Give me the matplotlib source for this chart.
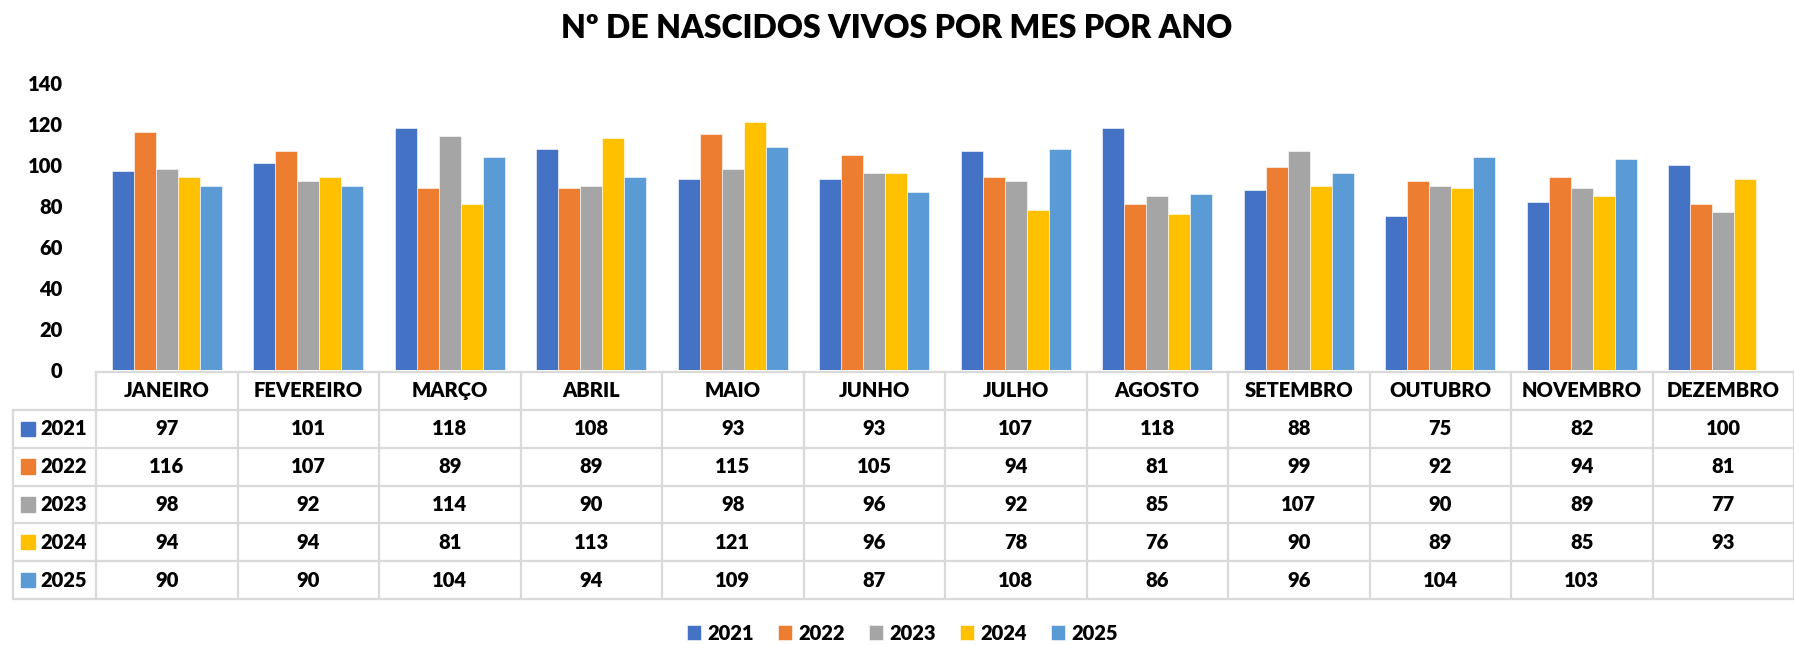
import matplotlib

matplotlib.use("Agg")
import matplotlib.pyplot as plt
from matplotlib.patches import Rectangle
import numpy as np

months = ["JANEIRO", "FEVEREIRO", "MARÇO", "ABRIL", "MAIO", "JUNHO",
          "JULHO", "AGOSTO", "SETEMBRO", "OUTUBRO", "NOVEMBRO", "DEZEMBRO"]
years = ["2021", "2022", "2023", "2024", "2025"]
v2021 = [97, 101, 118, 108, 93, 93, 107, 118, 88, 75, 82, 100]
v2022 = [116, 107, 89, 89, 115, 105, 94, 81, 99, 92, 94, 81]
v2023 = [98, 92, 114, 90, 98, 96, 92, 85, 107, 90, 89, 77]
v2024 = [94, 94, 81, 113, 121, 96, 78, 76, 90, 89, 85, 93]
v2025 = [90, 90, 104, 94, 109, 87, 108, 86, 96, 104, 103, None]
series = [v2021, v2022, v2023, v2024, v2025]
colors = ["#4472C4", "#ED7D31", "#A5A5A5", "#FFC000", "#5B9BD5"]

W, H = 1794, 645
FONT = "Lato"
WEIGHT = "heavy"
FS = 14.5
GRID = "#D9D9D9"

fig = plt.figure(figsize=(W / 100, H / 100), dpi=100)
fig.patch.set_facecolor("white")

# pixel layout
col_left, col_right = 96, 1794
y_zero, y_top = 370, 83
label_left = 13
row_top, row_bottom = 372, 599

ax = fig.add_axes([col_left / W, 1 - y_zero / H, (col_right - col_left) / W, (y_zero - y_top) / H])
x = np.arange(len(months))
n = len(series)
width = 0.775 / n
for i, (vals, color, year) in enumerate(zip(series, colors, years)):
    heights = [np.nan if v is None else v for v in vals]
    ax.bar(x + (i - (n - 1) / 2) * width, heights, width, color=color, label=year,
           edgecolor="white", linewidth=0.4)
ax.set_xlim(-0.5, len(months) - 0.5)
ax.set_ylim(0, 140)
ax.set_yticks(range(0, 141, 20))
ax.set_xticks([])
ax.tick_params(axis="y", length=0, pad=24)
for lab in ax.get_yticklabels():
    lab.set_fontfamily(FONT)
    lab.set_fontweight(WEIGHT)
    lab.set_fontsize(FS)
for s in ax.spines.values():
    s.set_visible(False)

# data table
cat_px = (col_right - col_left) / len(months)
extra = (col_left - label_left) / cat_px
tb = fig.add_axes([label_left / W, 1 - row_bottom / H, (col_right - label_left) / W, (row_bottom - row_top) / H])
tb.set_xlim(-0.5 - extra, len(months) - 0.5)
tb.set_ylim(n + 1, 0)
tb.axis("off")
lw = 1.6
# horizontal lines
tb.plot([-0.5, len(months) - 0.5], [0, 0], color=GRID, lw=lw, clip_on=False)
for r in range(1, n + 2):
    tb.plot([-0.5 - extra, len(months) - 0.5], [r, r], color=GRID, lw=lw, clip_on=False)
# vertical lines
for c in range(len(months) + 1):
    tb.plot([c - 0.5, c - 0.5], [0, n + 1], color=GRID, lw=lw, clip_on=False)
tb.plot([-0.5 - extra, -0.5 - extra], [1, n + 1], color=GRID, lw=lw, clip_on=False)

txt = dict(fontfamily=FONT, fontweight=WEIGHT, fontsize=FS, ha="center", va="center")
for c, m in enumerate(months):
    tb.text(c, 0.5, m, **txt)
sq = 14 / cat_px
for r, (vals, color, year) in enumerate(zip(series, colors, years), start=1):
    x0 = -0.5 - extra + 8 / cat_px
    tb.add_patch(Rectangle((x0, r + 0.5 - 0.19), sq, 0.38, color=color, clip_on=False))
    tb.text(x0 + sq + 5 / cat_px, r + 0.5, year, fontfamily=FONT, fontweight=WEIGHT,
            fontsize=FS, ha="left", va="center")
    for c, v in enumerate(vals):
        if v is not None:
            tb.text(c, r + 0.5, str(v), **txt)

fig.text(0.5, 1 - 28 / H, "Nº DE NASCIDOS VIVOS POR MES POR ANO", ha="center", va="center",
         fontfamily=FONT, fontweight=WEIGHT, fontsize=23)

handles, labels = ax.get_legend_handles_labels()
fig.legend(handles, labels, loc="center", bbox_to_anchor=(0.503, 1 - 633 / H), ncol=n,
           frameon=False, prop={"family": FONT, "weight": WEIGHT, "size": FS},
           handlelength=0.7, handleheight=0.7, handletextpad=0.3, columnspacing=1.2)

fig.savefig("out.png", dpi=100)
